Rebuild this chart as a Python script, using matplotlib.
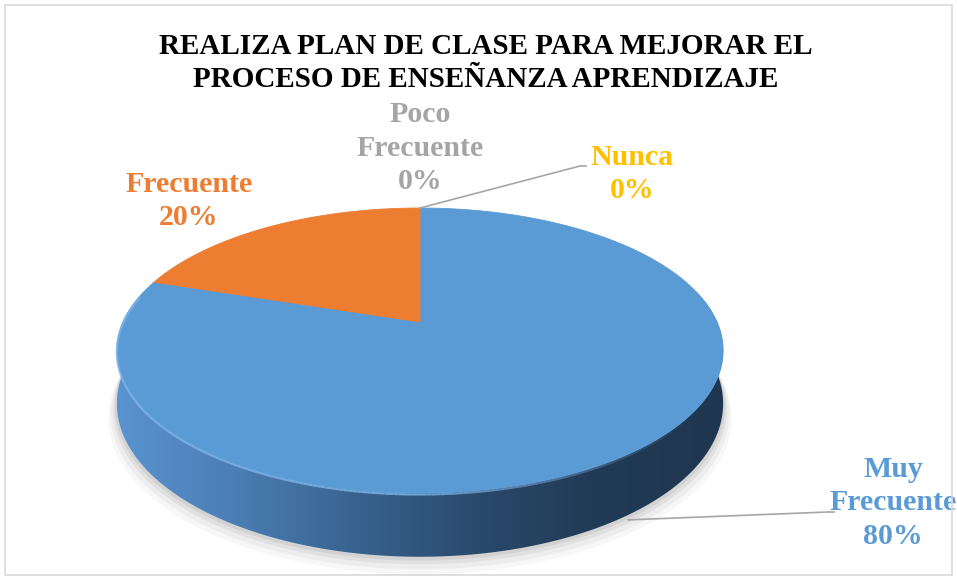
import numpy as np
import matplotlib
matplotlib.use("Agg")
import matplotlib.pyplot as plt
from matplotlib.transforms import Transform
from matplotlib.path import Path
from matplotlib.patches import Polygon, Rectangle
from matplotlib.colors import LinearSegmentedColormap, to_rgb
from matplotlib.collections import LineCollection

# datos
categorias = ["Muy\nFrecuente", "Frecuente", "Poco\nFrecuente", "Nunca"]
valores = [80, 20, 0, 0]
colores = ["#5b9bd5", "#ed7d31", "#a5a5a5", "#ffc000"]
titulo = "REALIZA PLAN DE CLASE PARA MEJORAR EL\nPROCESO DE ENSEÑANZA APRENDIZAJE"

# posicion de etiquetas (pixeles) y final de la linea guia
pos_etiquetas = [(893, 503), (189, 201), (420, 148), (632, 174)]
fin_guia = [(828, 512), None, None, (580, 166)]


# perspectiva: disco unitario -> pixeles de la figura
class Persp(Transform):
    input_dims = 2
    output_dims = 2
    is_separable = False
    has_inverse = False

    def __init__(self, cx=420, w=297, b=322, a=-72.4, p=0.2, prof=0):
        super().__init__()
        self.cx, self.w, self.b, self.a, self.p, self.prof = cx, w, b, a, p, prof

    def transform_non_affine(self, uv):
        uv = np.asarray(uv, float)
        u, v = uv[:, 0], uv[:, 1]
        den = 1 + self.p * v
        x = self.cx + self.w * u / den
        y = (self.b + self.a * v + self.prof) / den
        return np.column_stack([x, y])

    def transform_path_non_affine(self, path):
        # muestrear las curvas bezier antes de proyectar
        pts = []
        for seg, code in path.iter_bezier():
            if code == Path.MOVETO:
                pts.append(seg.control_points[0:1])
            else:
                tt = np.linspace(0, 1, 40)[1:]
                pts.append(seg(tt))
        verts = np.concatenate(pts)
        return Path(self.transform_non_affine(verts), closed=False)


fig = plt.figure(figsize=(9.57, 5.78), dpi=100)
ax = fig.add_axes([0, 0, 1, 1])

wedges, _ = ax.pie(valores, colors=colores, startangle=90, counterclock=False,
                   radius=1, center=(0, 0),
                   wedgeprops=dict(linewidth=0.6))
ax.set_aspect("auto")
ax.set_xlim(0, 957)
ax.set_ylim(578, 0)
ax.axis("off")

arriba = Persp()
abajo = Persp(prof=51)
for wdg, col, val in zip(wedges, colores, valores):
    wdg.set_edgecolor(col)
    if val == 0:
        wdg.set_linewidth(0)
    wdg.set_transform(arriba + ax.transData)
    wdg.set_zorder(5)

# costado del cilindro (parte frontal)
cmap = LinearSegmentedColormap.from_list(
    "lado", ["#5a93cf", "#4a7db3", "#38628e", "#29496b", "#213a55", "#1f3650"])
for wdg in wedges:
    if wdg.theta2 - wdg.theta1 <= 0:
        continue
    t = np.radians(np.linspace(wdg.theta1, wdg.theta2, 400))
    frente = np.sin(t) < 0.2
    if not frente.any():
        continue
    t = t[frente]
    uv = np.column_stack([np.cos(t), np.sin(t)])
    top = arriba.transform(uv)
    bot = abajo.transform(uv)
    poly = np.vstack([top, bot[::-1]])

    # sombra
    for k, al in zip([14, 10, 6, 3], [0.03, 0.04, 0.05, 0.06]):
        sh = Persp(w=297 + k * 0.6, prof=51 + k)
        tt = np.radians(np.linspace(0, 360, 200))
        ax.add_patch(Polygon(sh.transform(np.column_stack([np.cos(tt), np.sin(tt)])),
                             closed=True, facecolor="#000000", alpha=al,
                             edgecolor="none", zorder=1))

    lado = Polygon(poly, closed=True, facecolor="none", edgecolor="none", zorder=3)
    ax.add_patch(lado)
    x0, x1 = poly[:, 0].min(), poly[:, 0].max()
    y0, y1 = poly[:, 1].min(), poly[:, 1].max()
    grad = np.linspace(0, 1, 256).reshape(1, -1)
    im = ax.imshow(grad, cmap=cmap, extent=(x0, x1, y1, y0), aspect="auto",
                   zorder=3, interpolation="bicubic")
    im.set_clip_path(lado)
    # brillo del borde superior, se desvanece hacia la derecha
    seg = np.stack([top[:-1], top[1:]], axis=1) + [0, 1.5]
    alfa = np.clip((0.8 - np.cos(t[:-1])) / 1.0, 0, 0.85)
    rgba = np.column_stack([np.tile(to_rgb("#7db4ea"), (len(alfa), 1)), alfa])
    ax.add_collection(LineCollection(seg, colors=rgba, linewidths=1.6, zorder=6))
    ax.set_xlim(0, 957)
    ax.set_ylim(578, 0)

# etiquetas
fuente = dict(family="Liberation Serif", weight="bold", size=21.5)
total = sum(valores)
for i, (cat, val, col) in enumerate(zip(categorias, valores, colores)):
    x, y = pos_etiquetas[i]
    txt = f"{cat}\n{100 * val / total:.0f}%"
    ax.text(x, y, txt, color=col, ha="center", va="center", ma="center",
            linespacing=1.3, zorder=10, **fuente)
    if fin_guia[i] is not None:
        wdg = wedges[i]
        ang = np.radians((wdg.theta1 + wdg.theta2) / 2)
        uv = np.array([[np.cos(ang), np.sin(ang)]])
        tr = abajo if np.sin(ang) < -0.3 else arriba
        px, py = tr.transform(uv)[0]
        if tr is abajo:
            py += 5
        ex, ey = fin_guia[i]
        ax.plot([px, ex, ex + 6], [py, ey, ey], color="#a6a6a6", lw=1.2, zorder=9)

ax.text(486, 63, titulo, ha="center", va="center", ma="center", color="black",
        linespacing=1.3, zorder=10, **dict(fuente, size=21))

# borde del grafico
fig.patches.append(Rectangle((0.005, 0.006), 0.99, 0.985, transform=fig.transFigure,
                             fill=False, edgecolor="#d9d9d9", lw=1.2))

fig.savefig("out.png", dpi=100)
